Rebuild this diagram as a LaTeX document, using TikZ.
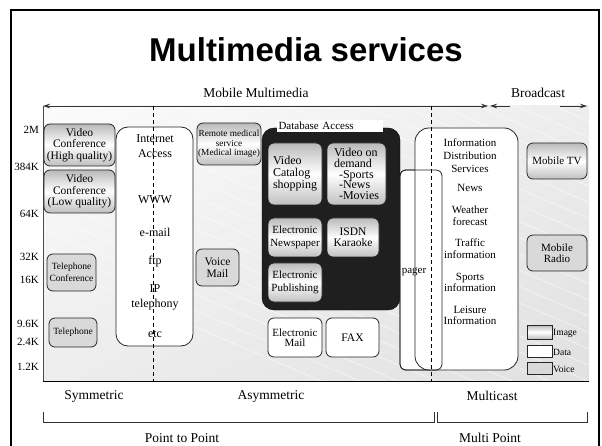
\documentclass[tikz,border=0pt]{standalone}
\usepackage{fontspec}
\setmainfont{Liberation Serif}
\newfontfamily\titlefont{Liberation Sans}
\usetikzlibrary{arrows.meta,shadings}
\newcommand\fs[2]{\fontsize{#1}{#2}\selectfont}
\newcommand\svcbox[7]{\node[#1, minimum width={(#5-#3)*1pt}, minimum height={(#6-#4)*1pt}] (#2) at ({(#3+#5)/2},{(#4+#6)/2}) {#7};}
\begin{document}
\begin{tikzpicture}[x=1pt,y=-1pt,
  bx/.style={draw=black!85,line width=0.8pt,rounded corners=6pt,inner sep=1pt,align=center,font=\fs{11.5}{11.5}},
  imgbx/.style={bx,top color=gray!55,bottom color=gray!50,middle color=white},
  voicebx/.style={bx,fill=gray!30},
  databx/.style={bx,fill=white},
  lbl/.style={inner sep=0pt,align=center,font=\fs{11.5}{12.5}},
  ax/.style={inner sep=0pt,anchor=east,font=\fs{11}{11}},
  bot/.style={inner sep=0pt,font=\fs{13.5}{14}},
  arr/.style={draw=black!80,line width=0.7pt,>={Stealth[length=7pt,width=4.5pt]}},
  dsh/.style={draw=black,line width=0.7pt,dash pattern=on 4pt off 3pt}
]
\clip (0,0) rectangle (602,446);
% background panel
\shade[upper left=gray!3, upper right=gray!14, lower left=gray!14, lower right=gray!24] (43,106) rectangle (589,381);
\begin{scope}
  \clip (43,106) rectangle (589,381);
  \foreach \i in {0,...,26} {
    \draw[white,opacity=0.5,line width=0.8pt] ({\i*38-320},106) -- ++(700,300);
  }
\end{scope}
\draw[black!70,line width=0.6pt] (43,106) -- (43,381);
\draw[black,line width=0.9pt] (43,381) -- (589,381);

% top arrows
\coordinate (mmL) at (43,106);
\coordinate (mmR) at (488,106);
\coordinate (bcL) at (490,106);
\coordinate (bcA) at (510,106);
\coordinate (bcB) at (560,106);
\coordinate (bcR) at (587,106);
\draw[arr,<->] (mmL) -- (mmR);
\draw[arr,<-] (bcL) -- (bcA);
\draw[arr,->] (bcB) -- (bcR);

% title and top labels
\node[inner sep=0pt,font=\titlefont\bfseries\fs{33}{33}] (title) at (306,50) {Multimedia services};
\node[bot] (mm) at (256,93) {Mobile Multimedia};
\node[bot] (bc) at (538,93) {Broadcast};

% axis labels
\node[ax] (y1) at (39,130) {2M};
\node[ax] (y2) at (39,167) {384K};
\node[ax] (y3) at (39,214) {64K};
\node[ax] (y4) at (39,257) {32K};
\node[ax] (y5) at (39,280) {16K};
\node[ax] (y6) at (39,324) {9.6K};
\node[ax] (y7) at (39,342) {2.4K};
\node[ax] (y8) at (39,367) {1.2K};

% left column
\svcbox{imgbx}{vchq}{44}{124}{115}{166}{Video\\Conference\\(High quality)}
\svcbox{imgbx}{vclq}{44}{170}{115}{213}{Video\\Conference\\(Low quality)}
\svcbox{voicebx,font=\fs{9.5}{11.5}}{telconf}{47}{254}{96}{291}{Telephone\\Conference}
\svcbox{voicebx,font=\fs{9.5}{11.5}}{tel}{49}{318}{97}{347}{Telephone}

% internet access
\svcbox{databx,rounded corners=12pt}{internet}{116}{127}{193}{346}{}
\node[lbl,font=\fs{12}{15}] (ia) at (155,146) {Internet\\Access};
\node[lbl,font=\fs{12}{12}] (www) at (155,200) {WWW};
\node[lbl,font=\fs{12}{12}] (mail) at (155,232) {e-mail};
\node[lbl,font=\fs{12}{12}] (ftp) at (155,262) {ftp};
\node[lbl,font=\fs{12}{15}] (ipt) at (155,297) {IP\\telephony};
\node[lbl,font=\fs{12}{12}] (etc) at (155,334) {etc};

% middle column
\svcbox{imgbx,font=\fs{9.3}{9.3}}{remote}{197}{123}{261}{165}{Remote medical\\service\\(Medical image)}
\svcbox{voicebx}{vmail}{196}{249}{239}{286}{Voice\\Mail}

% database access block
\svcbox{draw=black,fill=black!88,rounded corners=12pt,inner sep=0pt}{db}{262}{128}{400}{310}{}
\node[fill=white,inner sep=0pt,minimum width=106pt,minimum height=12pt,text width=103pt,align=left,font=\fs{11}{11}] (dbl) at (330,126) {Database Access};
\svcbox{imgbx,align=left,font=\fs{12}{12}}{vcat}{268}{143}{322}{205}{Video\\Catalog\\shopping}
\svcbox{imgbx,align=left,font=\fs{12}{10.8}}{vod}{327}{143}{386}{205}{Video on\\demand\\\hspace*{5pt}-Sports\\\hspace*{5pt}-News\\\hspace*{5pt}-Movies}
\svcbox{imgbx,font=\fs{11}{13}}{enews}{268}{218}{322}{257}{Electronic\\Newspaper}
\svcbox{imgbx,font=\fs{11.5}{11}}{isdn}{327}{218}{379}{257}{ISDN\\Karaoke}
\svcbox{imgbx,font=\fs{11}{13}}{epub}{268}{263}{322}{302}{Electronic\\Publishing}
\svcbox{databx,font=\fs{11}{10.5}}{email}{268}{318}{322}{357}{Electronic\\Mail}
\svcbox{databx,font=\fs{11.5}{11}}{fax}{326}{318}{379}{357}{FAX}

% information distribution and pager
\svcbox{databx,rounded corners=6pt}{pager}{400}{170}{442}{370}{}
\svcbox{databx,rounded corners=14pt}{info}{415}{128}{518}{370}{}
\draw[black!85,line width=0.8pt,rounded corners=6pt] (400,170) rectangle (442,370);
\node[lbl,font=\fs{11}{11}] (pg) at (414,272) {pager};
\node[lbl,font=\fs{11}{13}] (i1) at (470,156) {Information\\Distribution\\Services};
\node[lbl,font=\fs{11}{12}] (i2) at (470,188) {News};
\node[lbl,font=\fs{11}{12}] (i3) at (470,216) {Weather\\forecast};
\node[lbl,font=\fs{11}{12}] (i4) at (470,249) {Traffic\\information};
\node[lbl,font=\fs{11}{11.5}] (i5) at (470,282.5) {Sports\\information};
\node[lbl,font=\fs{11}{11.5}] (i6) at (470,315.5) {Leisure\\Information};

% broadcast column
\svcbox{imgbx,font=\fs{11}{11}}{mtv}{527}{143}{587}{179}{Mobile TV}
\svcbox{voicebx,font=\fs{11}{11.5}}{mradio}{527}{235}{587}{271}{Mobile\\Radio}

% legend
\svcbox{imgbx,rounded corners=0pt}{lgimg}{527}{325}{552}{339}{}
\svcbox{databx,rounded corners=0pt}{lgdata}{527}{345}{552}{357}{}
\svcbox{voicebx,rounded corners=0pt}{lgvoice}{527}{362}{552}{374}{}
\node[inner sep=0pt,anchor=west,font=\fs{9.5}{9.5}] (lt1) at (553,333) {Image};
\node[inner sep=0pt,anchor=west,font=\fs{9.5}{9.5}] (lt2) at (553,352) {Data};
\node[inner sep=0pt,anchor=west,font=\fs{9.5}{9.5}] (lt3) at (553,369) {Voice};

% dashed separators
\draw[dsh] (153,106) -- (153,382);
\draw[dsh] (431,106) -- (431,382);

% bottom labels and brackets
\node[bot] (sym) at (94,396) {Symmetric};
\node[bot] (asym) at (271,396) {Asymmetric};
\node[bot] (mcast) at (492,396) {Multicast};
\draw[black!80,line width=0.8pt] (43,412) -- (43,422) -- (434,422) -- (434,412);
\draw[black!80,line width=0.8pt] (437,412) -- (437,422) -- (587,422) -- (587,412);
\node[bot] (p2p) at (182,438) {Point to Point};
\node[bot] (mp) at (490,438) {Multi Point};

% outer frame
\draw[line width=2.5pt] (11,10) rectangle (599,470);
\end{tikzpicture}
\end{document}
